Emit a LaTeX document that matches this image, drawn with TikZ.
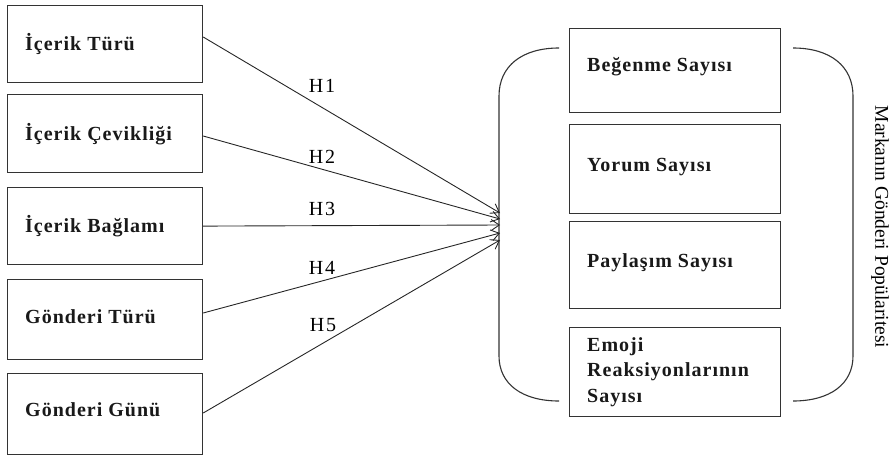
\documentclass[tikz,border=0pt]{standalone}
\usepackage{fontspec}
\setmainfont{Liberation Serif}
\newfontfamily\boxfont[LetterSpace=5]{Liberation Serif}
\newfontfamily\hfont[LetterSpace=8]{Liberation Serif}
\usetikzlibrary{arrows.meta}
\definecolor{edge}{HTML}{333333}
\begin{document}
\begin{tikzpicture}[x=1pt,y=-1pt,
  lbox/.style={draw=edge,line width=1.2pt,inner sep=0pt,anchor=north west},
  btxt/.style={font=\boxfont\bfseries\fontsize{20}{25.5}\selectfont,anchor=west,inner sep=0pt,text=black!90},
  htxt/.style={font=\hfont\fontsize{20}{22}\selectfont,inner sep=0pt},
  link/.style={draw=black!85,line width=0.9pt,-{Straight Barb[length=8pt,width=11pt]}},
  brk/.style={draw=edge,line width=1.1pt}]
\useasboundingbox (0,0) rectangle (891,455);
% left boxes
\node[lbox,minimum width=195pt,minimum height=77pt] (a1) at (7,5) {};
\node[lbox,minimum width=195pt,minimum height=78pt] (a2) at (7,94) {};
\node[lbox,minimum width=195pt,minimum height=77pt] (a3) at (7,187) {};
\node[lbox,minimum width=195pt,minimum height=80pt] (a4) at (7,279) {};
\node[lbox,minimum width=195pt,minimum height=81pt] (a5) at (7,373) {};
\node[btxt] (ta1) at (25,44) {İçerik Türü};
\node[btxt] (ta2) at (25,134) {İçerik Çevikliği};
\node[btxt] (ta3) at (25,226) {İçerik Bağlamı};
\node[btxt] (ta4) at (25,317) {Gönderi Türü};
\node[btxt] (ta5) at (25,410) {Gönderi Günü};
% right boxes
\node[lbox,minimum width=211pt,minimum height=84pt] (b1) at (569,28) {};
\node[lbox,minimum width=211pt,minimum height=89pt] (b2) at (569,124) {};
\node[lbox,minimum width=211pt,minimum height=87pt] (b3) at (569,221) {};
\node[lbox,minimum width=211pt,minimum height=89pt] (b4) at (569,327) {};
\node[btxt] (tb1) at (587,67) {Beğenme Sayısı};
\node[btxt] (tb2) at (587,167) {Yorum Sayısı};
\node[btxt] (tb3) at (587,263) {Paylaşım Sayısı};
\node[btxt,align=left] (tb4) at (587,372) {Emoji\\Reaksiyonlarının\\Sayısı};
% brackets
\draw[brk] (559,48) .. controls (522,48) and (499,66) .. (499,96) -- (499,356) .. controls (499,384) and (522,401) .. (559,401);
\draw[brk] (793,48) .. controls (830,48) and (853,66) .. (853,96) -- (853,356) .. controls (853,384) and (830,401) .. (793,401);
% arrow targets
\coordinate (t1) at (500,213);
\coordinate (t2) at (500,219);
\coordinate (t3) at (500,225);
\coordinate (t4) at (500,233);
\coordinate (t5) at (500,240);
\draw[link] (a1.east |- 0,37) -- (t1);
\draw[link] (a2.east |- 0,136) -- (t2);
\draw[link] (a3.east) -- (t3);
\draw[link] (a4.east |- 0,313) -- (t4);
\draw[link] (a5.east |- 0,413) -- (t5);
\node[htxt] (h1) at (322,86) {H1};
\node[htxt] (h2) at (322,157) {H2};
\node[htxt] (h3) at (322,209) {H3};
\node[htxt] (h4) at (322,268) {H4};
\node[htxt] (h5) at (323,325) {H5};
% rotated title
\node[font=\fontsize{19.5}{22}\selectfont,rotate=-90,inner sep=0pt] (title) at (880,227) {Markanın Gönderi Popülaritesi};
\end{tikzpicture}
\end{document}
